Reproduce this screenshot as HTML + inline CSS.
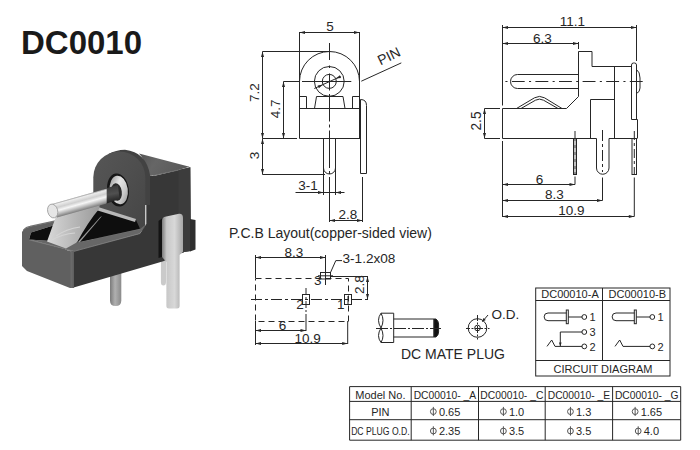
<!DOCTYPE html>
<html><head><meta charset="utf-8"><style>
html,body{margin:0;padding:0;background:#fff;}
svg{display:block;font-family:"Liberation Sans",sans-serif;}
</style></head><body>
<svg width="700" height="450" viewBox="0 0 700 450">
<rect width="700" height="450" fill="#fff"/>
<g><defs>
<linearGradient id="gRod" x1="0" y1="0" x2="0.25" y2="1"><stop offset="0" stop-color="#f4f4f4"/><stop offset="0.35" stop-color="#dadada"/><stop offset="0.7" stop-color="#b0b0b0"/><stop offset="1" stop-color="#8a8a8a"/></linearGradient>
<linearGradient id="gTerm" x1="0" y1="0" x2="1" y2="0"><stop offset="0" stop-color="#7c7c7c"/><stop offset="0.22" stop-color="#c8c8c8"/><stop offset="0.6" stop-color="#d8d8d8"/><stop offset="1" stop-color="#a8a8a8"/></linearGradient>
<linearGradient id="gPin" x1="0" y1="0" x2="1" y2="0"><stop offset="0" stop-color="#7a7a7a"/><stop offset="0.45" stop-color="#b0b0b0"/><stop offset="1" stop-color="#8a8a8a"/></linearGradient>
<linearGradient id="gClip" x1="0" y1="0" x2="1" y2="0"><stop offset="0" stop-color="#d8d8d8"/><stop offset="0.5" stop-color="#b8b8b8"/><stop offset="1" stop-color="#9a9a9a"/></linearGradient>
<radialGradient id="gRing" cx="0.55" cy="0.55" r="0.5"><stop offset="0.5" stop-color="#2a2a2a"/><stop offset="0.62" stop-color="#d0d0d0"/><stop offset="0.8" stop-color="#8a8a8a"/><stop offset="1" stop-color="#1e1e1e"/></radialGradient>
<linearGradient id="gRing2" x1="0" y1="0" x2="1" y2="1"><stop offset="0" stop-color="#8a8a8a"/><stop offset="0.4" stop-color="#e6e6e6"/><stop offset="0.7" stop-color="#c8c8c8"/><stop offset="1" stop-color="#8c8c8c"/></linearGradient>
<linearGradient id="gTop" x1="0" y1="0" x2="1" y2="0.3"><stop offset="0" stop-color="#555"/><stop offset="0.4" stop-color="#666"/><stop offset="1" stop-color="#5a5a5a"/></linearGradient>
<linearGradient id="gRod3" gradientUnits="userSpaceOnUse" x1="78" y1="196.3" x2="82" y2="210.6"><stop offset="0" stop-color="#8a8a8a"/><stop offset="0.12" stop-color="#ececec"/><stop offset="0.35" stop-color="#cfcfcf"/><stop offset="0.55" stop-color="#f6f6f6"/><stop offset="0.8" stop-color="#b4b4b4"/><stop offset="1" stop-color="#7a7a7a"/></linearGradient>
<linearGradient id="gRodDark" gradientUnits="userSpaceOnUse" x1="110" y1="186" x2="113" y2="202"><stop offset="0" stop-color="#3a3a3a"/><stop offset="0.5" stop-color="#505050"/><stop offset="1" stop-color="#222"/></linearGradient>
<linearGradient id="gFace" x1="0" y1="0" x2="1" y2="1"><stop offset="0" stop-color="#565656"/><stop offset="0.5" stop-color="#4e4e4e"/><stop offset="1" stop-color="#444"/></linearGradient>
</defs><path d="M110,272 H121.3 V300.5 Q121.3,306 115.6,306 Q110,306 110,300.5 Z" fill="url(#gPin)"/><path d="M160.9,261 L166,260 V282 Q166,285.5 163.4,285.5 Q160.9,285.5 160.9,282 Z" fill="#cacaca"/><polygon points="72,251 140,233.5 146.3,224 146.3,175 153.7,176 178.5,170 190.3,167.3 190.8,251 184,252 163.3,261.3 72,288" fill="#373737" /><polygon points="178.5,170 190.3,167.3 190.8,227 190.8,251 184,252 183,253 178.5,250" fill="#3c3c3c" /><polygon points="190,219 195.5,220 195.5,249.5 190,251.5" fill="#2e2e2e" /><path d="M139,153.5 L189.5,166.8 L178.5,170 L153.3,175.5 L146.3,176 Q146,160 139,153.5 Z" fill="url(#gTop)"/><path d="M153.3,175.5 L178.5,170" stroke="#6e6e6e" stroke-width="1" fill="none"/><path d="M108,154.2 Q116,150 125,149.8 Q146,152 150,175 V205 H135 V165 Z" fill="#424242"/><path d="M93.3,215 V177.5 A26,26 0 0 1 145.3,177.5 V224 Q145.3,230 139,231.5 L93.3,240 Z" fill="url(#gFace)"/><polygon points="22,266 22,232 24,229 30,226.5 60,220 62,221 58,224 31,232.5 29,239.5 65,249 67.5,250.5 74,252 74,288 70,288 27,271" fill="#606060" /><path d="M71.5,251 V288" stroke="#6a6a6a" stroke-width="2" fill="none"/><polygon points="29,239.5 76,242.8 140,229 146.3,224 140,233.5 74,251 67.5,250.5 65,249" fill="#676767" /><path d="M29,239.8 L66,249 L74,251.3 L140,233.5" stroke="#7a7a7a" stroke-width="1" fill="none"/><path d="M76,242.5 L140,228.8" stroke="#7c7c7c" stroke-width="1" fill="none"/><path d="M23.5,230 Q26,226.8 30,226.3 L60,219.8" stroke="#727272" stroke-width="1.2" fill="none"/><polygon points="29,239.5 31,232.5 58,224 93,208 104,210 136,220 140,228.8 76,242.8" fill="#0e0e0e" /><path d="M96.5,206.5 L136,219 L135,222 L96,210 Z" fill="#b8b8b8"/><path d="M100.3,217.1 L102,216 L80,242 L78,242 Z" fill="#9a9a9a"/><path d="M47,241.5 L56,216.5 L100,203.5 L99,209 Q88,222 77.1,242.2 L66,248.5 Z" fill="url(#gClip)"/><path d="M56,236 Q66,229 80,227 M52,240 Q62,234 75,233" stroke="#d4d4d4" stroke-width="1.2" fill="none"/><ellipse cx="118" cy="190" rx="10.8" ry="16.7" transform="rotate(-8 118 190)" fill="#161616"/><ellipse cx="118.8" cy="190" rx="9" ry="14.3" transform="rotate(-8 118.8 190)" fill="url(#gRing2)"/><ellipse cx="116.5" cy="192" rx="5.3" ry="8.8" transform="rotate(-8 116.5 192)" fill="#2a2a2a"/><polygon points="103,189 118,185 119.5,199 106,203.8" fill="url(#gRodDark)"/><polygon points="52,204 106.7,188.5 106.7,203.5 57,217.6" fill="url(#gRod3)"/><ellipse cx="52.7" cy="211" rx="5" ry="7" transform="rotate(-15 52.7 211)" fill="#e6e6e6" stroke="#9a9a9a" stroke-width="0.8"/><path d="M162,257 V221 Q162,217.5 165,216.8 L179,213.8 Q183,213.5 183,218 V251.7 L179.6,255 V306 Q179.6,308.5 177,308.5 H169 Q166.4,308.5 166.4,306 V262 Z" fill="url(#gTerm)"/><polygon points="158.5,221 162,218.5 162,257 158.5,258" fill="#141414" /></g>
<g><line x1="299.5" y1="32.5" x2="359.5" y2="32.5" stroke="#262626" stroke-width="1" /><polygon points="299.50,32.50 305.00,31.00 305.00,34.00" fill="#262626"/><polygon points="359.50,32.50 354.00,34.00 354.00,31.00" fill="#262626"/><text x="330" y="30.8" font-size="13.5" text-anchor="middle" fill="#262626" font-weight="normal" >5</text><line x1="299.5" y1="32" x2="299.5" y2="78" stroke="#262626" stroke-width="1" /><line x1="359.5" y1="32" x2="359.5" y2="139" stroke="#262626" stroke-width="1" /><line x1="262.5" y1="51.5" x2="329" y2="51.5" stroke="#262626" stroke-width="1" /><line x1="262.5" y1="51.5" x2="262.5" y2="138.5" stroke="#262626" stroke-width="1" /><polygon points="262.50,51.50 264.00,57.00 261.00,57.00" fill="#262626"/><polygon points="262.50,138.50 261.00,133.00 264.00,133.00" fill="#262626"/><text x="0" y="0" font-size="13.5" text-anchor="middle" fill="#262626" transform="translate(258.6,92.5) rotate(-90)">7.2</text><line x1="283.5" y1="81.5" x2="299" y2="81.5" stroke="#262626" stroke-width="1" /><line x1="283.5" y1="81.5" x2="283.5" y2="138.5" stroke="#262626" stroke-width="1" /><polygon points="283.50,81.50 285.00,87.00 282.00,87.00" fill="#262626"/><polygon points="283.50,138.50 282.00,133.00 285.00,133.00" fill="#262626"/><text x="0" y="0" font-size="13.5" text-anchor="middle" fill="#262626" transform="translate(279.6,108.8) rotate(-90)">4.7</text><line x1="262.5" y1="138.5" x2="297" y2="138.5" stroke="#262626" stroke-width="1" /><line x1="262.5" y1="174.5" x2="325" y2="174.5" stroke="#262626" stroke-width="1" /><line x1="262.5" y1="138.5" x2="262.5" y2="174.5" stroke="#262626" stroke-width="1" /><polygon points="262.50,138.50 264.00,144.00 261.00,144.00" fill="#262626"/><polygon points="262.50,174.50 261.00,169.00 264.00,169.00" fill="#262626"/><text x="0" y="0" font-size="13.5" text-anchor="middle" fill="#262626" transform="translate(258.6,155.5) rotate(-90)">3</text><path d="M299.5,81.5 A30,30 0 0 1 359.5,81.5" stroke="#262626" stroke-width="1" fill="none" /><line x1="299.5" y1="78" x2="299.5" y2="138.5" stroke="#262626" stroke-width="1" /><line x1="299.5" y1="138.5" x2="359.5" y2="138.5" stroke="#262626" stroke-width="1" /><line x1="299.5" y1="108.5" x2="359.5" y2="108.5" stroke="#262626" stroke-width="1" /><path d="M299.5,96.5 H306.5 V108.5" stroke="#262626" stroke-width="1" fill="none" /><path d="M359.5,96.5 H352.5 V108.5" stroke="#262626" stroke-width="1" fill="none" /><path d="M314.5,108.5 L316.5,96.5 H343 L345,108.5" stroke="#262626" stroke-width="1" fill="none" /><circle cx="329.3" cy="81.4" r="14.9" stroke="#262626" stroke-width="1" fill="none"/><circle cx="329.3" cy="81.4" r="7" stroke="#262626" stroke-width="1" fill="none"/><line x1="314.3" y1="88.5" x2="340.6" y2="76.5" stroke="#262626" stroke-width="1" /><polygon points="322.80,84.70 318.88,88.14 317.63,85.42" fill="#262626"/><polygon points="335.90,78.60 339.82,75.16 341.07,77.88" fill="#262626"/><line x1="329.5" y1="43" x2="329.5" y2="60" stroke="#262626" stroke-width="1" /><line x1="329.5" y1="65.5" x2="329.5" y2="68" stroke="#262626" stroke-width="1" /><line x1="329.5" y1="73.5" x2="329.5" y2="90.5" stroke="#262626" stroke-width="1" /><line x1="329.5" y1="94" x2="329.5" y2="121.5" stroke="#262626" stroke-width="1" /><line x1="329.5" y1="124.5" x2="329.5" y2="127.5" stroke="#262626" stroke-width="1" /><line x1="329.5" y1="130.5" x2="329.5" y2="168" stroke="#262626" stroke-width="1" /><line x1="329.5" y1="171" x2="329.5" y2="174" stroke="#262626" stroke-width="1" /><line x1="329.5" y1="177" x2="329.5" y2="222" stroke="#262626" stroke-width="1" /><line x1="302" y1="81.5" x2="351.3" y2="81.5" stroke="#262626" stroke-width="1" /><path d="M323.5,138.5 V168 A6,6 0 0 0 335.5,168 V138.5" stroke="#262626" stroke-width="1" fill="none" /><path d="M360.5,173.5 V99.5 Q366.5,99.5 366.5,105.5 V173.5 H360.5" stroke="#262626" stroke-width="1" fill="none" /><line x1="361.3" y1="81.2" x2="401.3" y2="62.9" stroke="#262626" stroke-width="1" /><text x="0" y="0" font-size="14" fill="#262626" transform="translate(380.5,65.5) rotate(-26)">PIN</text><line x1="323.5" y1="168" x2="323.5" y2="195" stroke="#262626" stroke-width="1" /><line x1="335.5" y1="168" x2="335.5" y2="195" stroke="#262626" stroke-width="1" /><line x1="295.5" y1="192.5" x2="344.5" y2="192.5" stroke="#262626" stroke-width="1" /><polygon points="323.50,192.50 318.00,194.00 318.00,191.00" fill="#262626"/><polygon points="335.50,192.50 341.00,191.00 341.00,194.00" fill="#262626"/><text x="308" y="189.5" font-size="13.5" text-anchor="middle" fill="#262626" font-weight="normal" >3-1</text><line x1="362.5" y1="177" x2="362.5" y2="222" stroke="#262626" stroke-width="1" /><line x1="329.5" y1="220.5" x2="362.5" y2="220.5" stroke="#262626" stroke-width="1" /><polygon points="329.50,220.50 335.00,219.00 335.00,222.00" fill="#262626"/><polygon points="362.50,220.50 357.00,222.00 357.00,219.00" fill="#262626"/><text x="347.8" y="218.8" font-size="13.5" text-anchor="middle" fill="#262626" font-weight="normal" >2.8</text><text x="229" y="238.3" font-size="14" text-anchor="start" fill="#262626" font-weight="normal" >P.C.B Layout(copper-sided view)</text><line x1="502.5" y1="27.5" x2="636.5" y2="27.5" stroke="#262626" stroke-width="1" /><polygon points="502.50,27.50 508.00,26.00 508.00,29.00" fill="#262626"/><polygon points="636.50,27.50 631.00,29.00 631.00,26.00" fill="#262626"/><text x="572.5" y="25.8" font-size="13.5" text-anchor="middle" fill="#262626" font-weight="normal" >11.1</text><line x1="502.5" y1="43.5" x2="578.5" y2="43.5" stroke="#262626" stroke-width="1" /><polygon points="502.50,43.50 508.00,42.00 508.00,45.00" fill="#262626"/><polygon points="578.50,43.50 573.00,45.00 573.00,42.00" fill="#262626"/><text x="542.5" y="42.8" font-size="13.5" text-anchor="middle" fill="#262626" font-weight="normal" >6.3</text><line x1="502.5" y1="25" x2="502.5" y2="105.5" stroke="#262626" stroke-width="1" /><line x1="636.5" y1="25" x2="636.5" y2="61" stroke="#262626" stroke-width="1" /><line x1="578.5" y1="42" x2="578.5" y2="49" stroke="#262626" stroke-width="1" /><path d="M578.5,96.5 V51.5 H592 V66.5 H631.5" stroke="#262626" stroke-width="1" fill="none" /><path d="M631.5,119.5 V65 Q631.5,63 633.5,63 H634.5 Q636.5,63 636.5,65 V119.5 M631.5,119.5 H637.5 V138.5" stroke="#262626" stroke-width="1" fill="none" /><path d="M636.5,69.5 Q640,72 640,78 V88 Q640,92 636.5,93.5" stroke="#262626" stroke-width="1" fill="none" /><line x1="614.5" y1="66.5" x2="614.5" y2="138.5" stroke="#262626" stroke-width="1" /><path d="M578.5,96.5 L566.5,108.5 H502.5 V138.5 H596.5" stroke="#262626" stroke-width="1" fill="none" /><path d="M609,138.5 H632" stroke="#262626" stroke-width="1" fill="none" /><path d="M590.5,138.5 V99.5 H614.5" stroke="#262626" stroke-width="1" fill="none" /><path d="M578.5,74.5 H517.5 A7,7 0 0 0 517.5,88.5 H578.5" stroke="#262626" stroke-width="1" fill="none" /><line x1="505.4" y1="81.5" x2="647" y2="81.5" stroke="#262626" stroke-width="1" stroke-dasharray="2.1,4.3,12.9,4.3" /><path d="M516.5,108.5 L534.5,97.8 Q539.5,95 544.5,97.8 L562,108.5" stroke="#262626" stroke-width="1" fill="none" /><path d="M521,108.5 L535.5,100.2 Q539.5,98 543.5,100.2 L558,108.5" stroke="#262626" stroke-width="1" fill="none" /><line x1="484.5" y1="108.5" x2="500" y2="108.5" stroke="#262626" stroke-width="1" /><line x1="484.5" y1="138.5" x2="500" y2="138.5" stroke="#262626" stroke-width="1" /><line x1="484.5" y1="108.5" x2="484.5" y2="138.5" stroke="#262626" stroke-width="1" /><polygon points="484.50,108.50 486.00,114.00 483.00,114.00" fill="#262626"/><polygon points="484.50,138.50 483.00,133.00 486.00,133.00" fill="#262626"/><text x="0" y="0" font-size="13.8" text-anchor="middle" fill="#262626" transform="translate(481,121) rotate(-90)">2.5</text><rect x="573.5" y="138.5" width="3" height="36" stroke="#262626" stroke-width="1" fill="#888" /><line x1="575" y1="141" x2="575" y2="172" stroke="#fff" stroke-width="1" stroke-dasharray="4,3" /><line x1="575" y1="131" x2="575" y2="138.5" stroke="#262626" stroke-width="1" /><line x1="575" y1="176.5" x2="575" y2="184.5" stroke="#262626" stroke-width="1" /><path d="M596.5,138.5 V168 A6.25,6.25 0 0 0 609,168 V138.5" stroke="#262626" stroke-width="1" fill="none" /><line x1="602.5" y1="130" x2="602.5" y2="172" stroke="#262626" stroke-width="1" stroke-dasharray="11,3,3,3" /><line x1="602.5" y1="177.5" x2="602.5" y2="200.5" stroke="#262626" stroke-width="1" /><rect x="632" y="138.5" width="4.5" height="36" stroke="#262626" stroke-width="1" fill="none" /><line x1="634.3" y1="131" x2="634.3" y2="174" stroke="#262626" stroke-width="1" stroke-dasharray="9,3,3,3" /><line x1="634.3" y1="177.5" x2="634.3" y2="216.5" stroke="#262626" stroke-width="1" /><line x1="502.5" y1="141" x2="502.5" y2="217" stroke="#262626" stroke-width="1" /><line x1="502.5" y1="184.5" x2="575" y2="184.5" stroke="#262626" stroke-width="1" /><polygon points="502.50,184.50 508.00,183.00 508.00,186.00" fill="#262626"/><polygon points="575.00,184.50 569.50,186.00 569.50,183.00" fill="#262626"/><text x="539.5" y="183.7" font-size="13.5" text-anchor="middle" fill="#262626" font-weight="normal" >6</text><line x1="502.5" y1="200.5" x2="602.5" y2="200.5" stroke="#262626" stroke-width="1" /><polygon points="502.50,200.50 508.00,199.00 508.00,202.00" fill="#262626"/><polygon points="602.50,200.50 597.00,202.00 597.00,199.00" fill="#262626"/><text x="554.5" y="198.7" font-size="13.5" text-anchor="middle" fill="#262626" font-weight="normal" >8.3</text><line x1="502.5" y1="216.5" x2="634.3" y2="216.5" stroke="#262626" stroke-width="1" /><polygon points="502.50,216.50 508.00,215.00 508.00,218.00" fill="#262626"/><polygon points="634.30,216.50 628.80,218.00 628.80,215.00" fill="#262626"/><text x="571.3" y="214.6" font-size="13.5" text-anchor="middle" fill="#262626" font-weight="normal" >10.9</text><line x1="255.5" y1="257.5" x2="325.5" y2="257.5" stroke="#262626" stroke-width="1" /><polygon points="255.50,257.50 261.00,256.00 261.00,259.00" fill="#262626"/><polygon points="325.50,257.50 320.00,259.00 320.00,256.00" fill="#262626"/><text x="294" y="256.7" font-size="13.5" text-anchor="middle" fill="#262626" font-weight="normal" >8.3</text><line x1="255.5" y1="255" x2="255.5" y2="278" stroke="#262626" stroke-width="1" /><line x1="325.5" y1="255" x2="325.5" y2="285" stroke="#262626" stroke-width="1" /><rect x="255.5" y="278.5" width="93" height="43" stroke="#262626" stroke-width="1" fill="none" stroke-dasharray="6,4"/><line x1="251" y1="299.5" x2="368" y2="299.5" stroke="#262626" stroke-width="1" stroke-dasharray="11,3,3,3" /><rect x="320.5" y="272.5" width="10" height="6.5" stroke="#262626" stroke-width="1" fill="none" /><line x1="325.5" y1="270" x2="325.5" y2="283" stroke="#262626" stroke-width="1" /><line x1="318" y1="275.8" x2="333" y2="275.8" stroke="#262626" stroke-width="1" /><rect x="302.5" y="294.5" width="7" height="10" stroke="#262626" stroke-width="1" fill="none" /><line x1="306" y1="288" x2="306" y2="321" stroke="#262626" stroke-width="1" stroke-dasharray="7,2,2,2" /><line x1="306" y1="321" x2="306" y2="331" stroke="#262626" stroke-width="1" /><rect x="344.5" y="294.5" width="7" height="10" stroke="#262626" stroke-width="1" fill="none" /><line x1="348" y1="296" x2="348" y2="304" stroke="#262626" stroke-width="1" /><line x1="347.7" y1="321" x2="347.7" y2="344" stroke="#262626" stroke-width="1" /><text x="317.7" y="284.5" font-size="13.5" text-anchor="middle" fill="#262626" font-weight="normal" >3</text><text x="300" y="309" font-size="13.5" text-anchor="middle" fill="#262626" font-weight="normal" >2</text><text x="340.8" y="309" font-size="13.5" text-anchor="middle" fill="#262626" font-weight="normal" >1</text><path d="M330.5,272.5 L335.8,260.6 H342" stroke="#262626" stroke-width="1" fill="none" /><text x="342.5" y="262.8" font-size="13.6" text-anchor="start" fill="#262626" font-weight="normal" >3-1.2x08</text><line x1="330.5" y1="276.5" x2="368" y2="276.5" stroke="#262626" stroke-width="1" /><line x1="367.5" y1="276.5" x2="367.5" y2="299.5" stroke="#262626" stroke-width="1" /><polygon points="367.50,276.50 369.00,282.00 366.00,282.00" fill="#262626"/><polygon points="367.50,299.50 366.00,294.00 369.00,294.00" fill="#262626"/><text x="0" y="0" font-size="13.5" text-anchor="middle" fill="#262626" transform="translate(363.5,284.5) rotate(-90)">2.8</text><line x1="255.5" y1="321" x2="255.5" y2="345" stroke="#262626" stroke-width="1" /><line x1="255.5" y1="330.5" x2="306" y2="330.5" stroke="#262626" stroke-width="1" /><polygon points="255.50,330.50 261.00,329.00 261.00,332.00" fill="#262626"/><polygon points="306.00,330.50 300.50,332.00 300.50,329.00" fill="#262626"/><text x="282.4" y="329.6" font-size="13.5" text-anchor="middle" fill="#262626" font-weight="normal" >6</text><line x1="255.5" y1="343.5" x2="347.7" y2="343.5" stroke="#262626" stroke-width="1" /><polygon points="255.50,343.50 261.00,342.00 261.00,345.00" fill="#262626"/><polygon points="347.70,343.50 342.20,345.00 342.20,342.00" fill="#262626"/><text x="307.6" y="343" font-size="13.5" text-anchor="middle" fill="#262626" font-weight="normal" >10.9</text><path d="M381,313.2 H393.7 V342.5 H381 Q376,336 381,328 Q385,320 381,313.2" stroke="#262626" stroke-width="1" fill="none" /><path d="M381,313.2 Q376,320 381,328 Q385,336 381,342.5" stroke="#262626" stroke-width="1" fill="none" /><path d="M393.7,319 H434 V337 H393.7" stroke="#262626" stroke-width="1" fill="none" /><path d="M434,319 H436 Q438.6,321 438.6,324 V332 Q438.6,335 436,337 H434 Z" stroke="#262626" stroke-width="1" fill="#111" /><line x1="376" y1="328.5" x2="441" y2="328.5" stroke="#262626" stroke-width="1" stroke-dasharray="12,2,2,2" /><text x="453" y="358.6" font-size="14" text-anchor="middle" fill="#262626" font-weight="normal" >DC MATE PLUG</text><circle cx="477.5" cy="328" r="9.3" stroke="#262626" stroke-width="1" fill="none"/><circle cx="477.5" cy="328" r="2.8" stroke="#262626" stroke-width="1" fill="none"/><line x1="466" y1="328.5" x2="489.5" y2="328.5" stroke="#262626" stroke-width="1" stroke-dasharray="4,1.5,2,1.5,8,1.5,2,1.5,6" /><line x1="477.5" y1="315" x2="477.5" y2="339.5" stroke="#262626" stroke-width="1" stroke-dasharray="6,1.5,2,1.5,7,1.5,2,1.5,6" /><line x1="488" y1="315" x2="482.5" y2="321.5" stroke="#262626" stroke-width="1" /><polygon points="482.00,322.00 483.44,317.98 485.73,319.92" fill="#262626"/><text x="505.3" y="319" font-size="13.5" text-anchor="middle" fill="#262626" font-weight="normal" >O.D.</text><rect x="535.7" y="288" width="134.3" height="88" stroke="#262626" stroke-width="1" fill="none" /><line x1="535.7" y1="300.5" x2="670" y2="300.5" stroke="#262626" stroke-width="1" /><line x1="602.5" y1="288" x2="602.5" y2="360" stroke="#262626" stroke-width="1" /><line x1="535.7" y1="360.5" x2="670" y2="360.5" stroke="#262626" stroke-width="1" /><text x="570" y="298.3" font-size="11" text-anchor="middle" fill="#262626" font-weight="normal" >DC00010-A</text><text x="637.3" y="298.3" font-size="11" text-anchor="middle" fill="#262626" font-weight="normal" >DC00010-B</text><text x="603" y="372.6" font-size="11" text-anchor="middle" fill="#262626" font-weight="normal" >CIRCUIT DIAGRAM</text><path d="M566.5,313 H548 A3.85,3.85 0 0 0 548,320.7 H566.5" stroke="#262626" stroke-width="1" fill="none" /><rect x="566.3" y="310" width="2" height="13.7" stroke="#262626" stroke-width="1" fill="none" /><line x1="568.3" y1="317" x2="582.3" y2="317" stroke="#262626" stroke-width="1" /><circle cx="584.3" cy="317" r="2.4" stroke="#262626" stroke-width="1" fill="none"/><text x="592.5" y="320.7" font-size="11" text-anchor="middle" fill="#262626" font-weight="normal" >1</text><line x1="555" y1="346.4" x2="582.3" y2="346.4" stroke="#262626" stroke-width="1" /><circle cx="584.3" cy="346.4" r="2.4" stroke="#262626" stroke-width="1" fill="none"/><path d="M547,346.4 L551.7,340 L555,346.4" stroke="#262626" stroke-width="1" fill="none" /><text x="592.5" y="350.7" font-size="11" text-anchor="middle" fill="#262626" font-weight="normal" >2</text><path d="M634.5,313 H616 A3.85,3.85 0 0 0 616,320.7 H634.5" stroke="#262626" stroke-width="1" fill="none" /><rect x="634.3" y="310" width="2" height="13.7" stroke="#262626" stroke-width="1" fill="none" /><line x1="636.3" y1="317" x2="650.3" y2="317" stroke="#262626" stroke-width="1" /><circle cx="652.3" cy="317" r="2.4" stroke="#262626" stroke-width="1" fill="none"/><text x="660.5" y="320.7" font-size="11" text-anchor="middle" fill="#262626" font-weight="normal" >1</text><line x1="623" y1="346.4" x2="650.3" y2="346.4" stroke="#262626" stroke-width="1" /><circle cx="652.3" cy="346.4" r="2.4" stroke="#262626" stroke-width="1" fill="none"/><path d="M615,346.4 L619.7,340 L623,346.4" stroke="#262626" stroke-width="1" fill="none" /><text x="660.5" y="350.7" font-size="11" text-anchor="middle" fill="#262626" font-weight="normal" >2</text><line x1="560.3" y1="332" x2="582.3" y2="332" stroke="#262626" stroke-width="1" /><circle cx="584.3" cy="332" r="2.4" stroke="#262626" stroke-width="1" fill="none"/><line x1="560.3" y1="332" x2="560.3" y2="346" stroke="#262626" stroke-width="1" /><polygon points="560.30,346.40 559.00,342.40 561.60,342.40" fill="#262626"/><text x="592.5" y="336.3" font-size="11" text-anchor="middle" fill="#262626" font-weight="normal" >3</text><line x1="349.6" y1="386.6" x2="349.6" y2="440.2" stroke="#262626" stroke-width="1" /><line x1="411.2" y1="386.6" x2="411.2" y2="440.2" stroke="#262626" stroke-width="1" /><line x1="478.5" y1="386.6" x2="478.5" y2="440.2" stroke="#262626" stroke-width="1" /><line x1="545.2" y1="386.6" x2="545.2" y2="440.2" stroke="#262626" stroke-width="1" /><line x1="612.6" y1="386.6" x2="612.6" y2="440.2" stroke="#262626" stroke-width="1" /><line x1="680.7" y1="386.6" x2="680.7" y2="440.2" stroke="#262626" stroke-width="1" /><line x1="349.6" y1="386.6" x2="680.7" y2="386.6" stroke="#262626" stroke-width="1" /><line x1="349.6" y1="401.4" x2="680.7" y2="401.4" stroke="#262626" stroke-width="1" /><line x1="349.6" y1="419.7" x2="680.7" y2="419.7" stroke="#262626" stroke-width="1" /><line x1="349.6" y1="440.2" x2="680.7" y2="440.2" stroke="#262626" stroke-width="1" /><text x="380.4" y="398.9" font-size="11" text-anchor="middle" fill="#262626" font-weight="normal" >Model No.</text><text x="444.85" y="398.9" font-size="10.3" text-anchor="middle" fill="#262626" font-weight="normal" >DC00010- _A</text><text x="511.85" y="398.9" font-size="10.3" text-anchor="middle" fill="#262626" font-weight="normal" >DC00010- _C</text><text x="578.9000000000001" y="398.9" font-size="10.3" text-anchor="middle" fill="#262626" font-weight="normal" >DC00010- _E</text><text x="646.6500000000001" y="398.9" font-size="10.3" text-anchor="middle" fill="#262626" font-weight="normal" >DC00010- _G</text><text x="380.4" y="415.8" font-size="11" text-anchor="middle" fill="#262626" font-weight="normal" >PIN</text><text x="380.4" y="435.2" font-size="10.3" text-anchor="middle" fill="#262626" font-weight="normal" ><tspan textLength="58.5" lengthAdjust="spacingAndGlyphs">DC PLUG O.D.</tspan></text><ellipse cx="433.34" cy="411.60" rx="2.9" ry="2.9" stroke="#555" stroke-width="1" fill="none"/><line x1="433.34" y1="406.90000000000003" x2="433.34" y2="416.0" stroke="#555" stroke-width="1" /><text x="438.89" y="415.8" font-size="11" text-anchor="start" fill="#262626" font-weight="normal" >0.65</text><ellipse cx="503.40" cy="411.60" rx="2.9" ry="2.9" stroke="#555" stroke-width="1" fill="none"/><line x1="503.4" y1="406.90000000000003" x2="503.4" y2="416.0" stroke="#555" stroke-width="1" /><text x="508.95" y="415.8" font-size="11" text-anchor="start" fill="#262626" font-weight="normal" >1.0</text><ellipse cx="570.45" cy="411.60" rx="2.9" ry="2.9" stroke="#555" stroke-width="1" fill="none"/><line x1="570.45" y1="406.90000000000003" x2="570.45" y2="416.0" stroke="#555" stroke-width="1" /><text x="576.0" y="415.8" font-size="11" text-anchor="start" fill="#262626" font-weight="normal" >1.3</text><ellipse cx="635.14" cy="411.60" rx="2.9" ry="2.9" stroke="#555" stroke-width="1" fill="none"/><line x1="635.14" y1="406.90000000000003" x2="635.14" y2="416.0" stroke="#555" stroke-width="1" /><text x="640.69" y="415.8" font-size="11" text-anchor="start" fill="#262626" font-weight="normal" >1.65</text><ellipse cx="433.34" cy="431.00" rx="2.9" ry="2.9" stroke="#555" stroke-width="1" fill="none"/><line x1="433.34" y1="426.3" x2="433.34" y2="435.4" stroke="#555" stroke-width="1" /><text x="438.89" y="435.2" font-size="11" text-anchor="start" fill="#262626" font-weight="normal" >2.35</text><ellipse cx="503.40" cy="431.00" rx="2.9" ry="2.9" stroke="#555" stroke-width="1" fill="none"/><line x1="503.4" y1="426.3" x2="503.4" y2="435.4" stroke="#555" stroke-width="1" /><text x="508.95" y="435.2" font-size="11" text-anchor="start" fill="#262626" font-weight="normal" >3.5</text><ellipse cx="570.45" cy="431.00" rx="2.9" ry="2.9" stroke="#555" stroke-width="1" fill="none"/><line x1="570.45" y1="426.3" x2="570.45" y2="435.4" stroke="#555" stroke-width="1" /><text x="576.0" y="435.2" font-size="11" text-anchor="start" fill="#262626" font-weight="normal" >3.5</text><ellipse cx="638.20" cy="431.00" rx="2.9" ry="2.9" stroke="#555" stroke-width="1" fill="none"/><line x1="638.2" y1="426.3" x2="638.2" y2="435.4" stroke="#555" stroke-width="1" /><text x="643.75" y="435.2" font-size="11" text-anchor="start" fill="#262626" font-weight="normal" >4.0</text><text x="21" y="53.5" font-size="33" text-anchor="start" fill="#1a1a1a" font-weight="bold" >DC0010</text></g>
</svg></body></html>
